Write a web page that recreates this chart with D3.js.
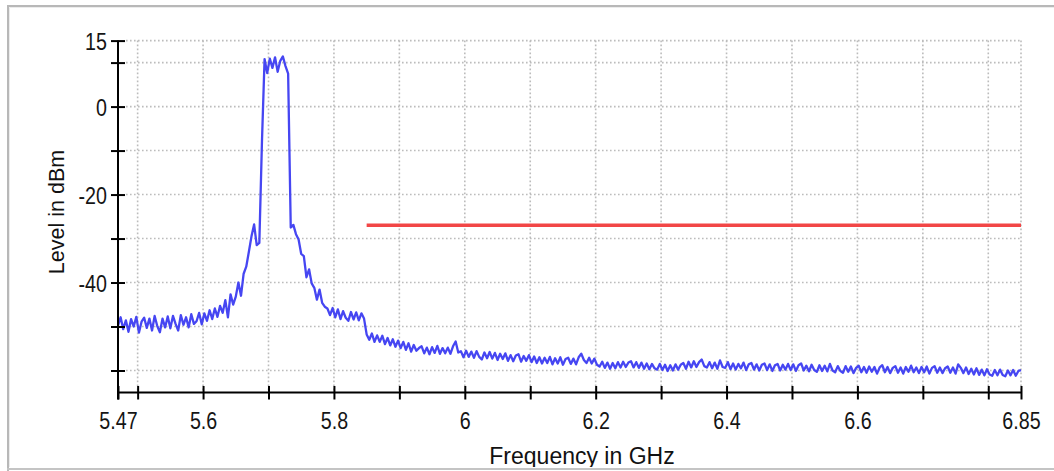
<!DOCTYPE html>
<html>
<head>
<meta charset="utf-8">
<script src="https://cdn.jsdelivr.net/npm/d3@7"></script>
<style>
  html, body { margin: 0; padding: 0; background: #ffffff; }
  svg { display: block; }
  .tick text { font-family: "Liberation Sans", Arial, sans-serif; font-size: 24px; fill: #151515; }
  .title { font-family: "Liberation Sans", Arial, sans-serif; fill: #111; }
</style>
</head>
<body>
<svg id="chart" width="1054" height="471"></svg>
<script>
// ---- data ----
const fStart = 5.47;        // GHz, first sweep point
const fStep = 0.004;        // GHz between sweep points
const levels = [
  -49.8, -47.9, -50.6, -48.6, -51.2, -48.3, -50.0, -47.8, -51.4, -48.9,
  -48.0, -50.3, -48.2, -50.9, -47.6, -49.9, -51.3, -48.2, -50.2, -47.7,
  -50.4, -47.6, -49.4, -50.9, -47.4, -49.6, -47.9, -50.2, -47.2, -49.4,
  -48.8, -46.9, -49.5, -47.0, -48.7, -46.3, -48.3, -45.9, -47.8, -45.3,
  -46.9, -44.0, -47.9, -42.7, -45.0, -43.2, -40.0, -43.0, -38.0, -36.4,
  -33.0, -29.5, -26.8, -31.5, -31.0, -8.0, 10.8, 7.6, 10.9, 8.8,
  11.2, 7.9, 10.4, 11.4, 9.2, 7.5,
  -27.5, -26.9, -29.0, -30.2,
  -33.5, -34.0, -38.8, -37.0, -40.2, -41.2, -43.9, -41.6, -44.6, -45.5,
  -45.9, -47.4, -45.8, -47.9, -46.1, -48.3, -46.5, -48.0, -48.7, -46.7,
  -48.4, -46.8, -48.6, -47.0, -48.2, -51.8,
  -53.0, -51.6, -53.5, -52.0,
  -53.5, -52.1, -54.0, -52.6, -54.3, -52.9, -54.6, -53.2, -54.9, -53.5,
  -55.3, -53.8, -55.7, -54.2, -55.5, -54.9, -54.5, -56.1, -54.8, -56.3,
  -54.7, -56.0, -54.4, -56.2, -54.9, -56.1, -54.8, -56.2, -54.5, -53.4,
  -55.9, -55.6, -57.0, -55.5, -56.9, -55.7, -57.1, -55.6, -56.9, -57.5,
  -55.9, -57.2, -55.8, -57.3, -56.0, -57.6, -56.2, -57.4, -56.1, -57.8,
  -56.5, -57.9, -56.6, -56.3, -58.0, -56.7, -57.8, -56.5, -58.1, -56.8,
  -58.3, -57.0, -58.4, -57.1, -58.3, -56.9, -58.6, -57.2, -58.4, -57.0,
  -58.7, -57.4, -57.1, -58.5, -57.3, -58.6, -57.0, -56.2, -57.6, -58.3,
  -57.1, -58.4, -57.3, -58.7, -59.1, -58.0, -59.4, -58.2, -59.6, -58.3,
  -59.5, -58.1, -59.3, -58.0, -59.2, -58.2, -57.9, -59.3, -58.1, -59.4,
  -58.2, -59.6, -58.4, -59.7, -58.5, -59.5, -59.8, -58.5, -59.9, -58.7,
  -60.1, -58.8, -60.0, -58.6, -59.8, -58.7, -58.3, -59.6, -58.0, -59.3,
  -57.9, -59.2, -58.1, -57.5, -59.0, -59.3, -58.1, -59.5, -58.2, -59.6,
  -57.7, -59.2, -59.4, -58.1, -59.7, -58.4, -59.8, -58.5, -59.5, -58.2,
  -59.9, -58.6, -58.3, -59.8, -58.6, -60.0, -58.7, -58.4, -59.9, -58.6,
  -60.1, -58.8, -58.5, -60.0, -58.7, -59.8, -58.5, -59.9, -58.6, -60.1,
  -58.8, -58.4, -60.0, -58.9, -60.2, -58.7, -59.9, -60.3, -58.8, -60.1,
  -58.9, -60.2, -58.5, -60.0, -60.4, -59.0, -60.1, -60.5, -59.0, -60.3,
  -59.1, -60.6, -59.4, -58.9, -60.4, -59.2, -60.5, -59.1, -60.3, -59.2,
  -60.7, -59.3, -58.8, -60.4, -59.2, -60.6, -59.4, -59.0, -60.5, -59.3,
  -60.7, -59.2, -60.3, -58.9, -60.4, -59.3, -60.6, -59.2, -60.4, -59.1,
  -60.7, -59.4, -59.0, -60.5, -59.3, -60.6, -59.5, -59.1, -60.5, -59.3,
  -60.7, -58.6, -59.4, -60.6, -59.3, -60.8, -59.6, -60.9, -59.5, -61.0,
  -59.8, -61.1, -59.7, -60.9, -61.2, -59.9, -61.1, -59.8, -61.0, -61.3,
  -60.0, -61.1, -59.9, -61.2, -60.1, -59.9
];
const limitFreqs = [5.85, 6.85];
const limitLevels = [-27, -27];
const xTickValues = [5.47, 5.5, 5.6, 5.7, 5.8, 5.9, 6.0, 6.1, 6.2, 6.3, 6.4, 6.5, 6.6, 6.7, 6.8, 6.85];
const xTickLabels = {5.47: "5.47", 5.6: "5.6", 5.8: "5.8", 6.0: "6", 6.2: "6.2", 6.4: "6.4", 6.6: "6.6", 6.85: "6.85"};
const yTickValues = [15, 10, 0, -10, -20, -30, -40, -50, -60];
const yTickLabels = {15: "15", 0: "0", "-20": "-20", "-40": "-40"};
const xTitle = "Frequency in GHz";
const yTitle = "Level in dBm";

// ---- layout ----
const svg = d3.select("#chart");
const W = 1054, H = 471;
const plotLeft = 118, plotRight = 1021, plotTop = 40.6, plotBottom = 392.5;
const narrow = 0.82;

const x = d3.scaleLinear().domain([5.47, 6.85]).range([plotLeft, plotRight]);
const y = d3.scaleLinear().domain([-65, 15]).range([plotBottom, plotTop]);

svg.append("rect").attr("width", W).attr("height", H).attr("fill", "#ffffff");

// grid
const grid = svg.append("g").attr("fill", "none").attr("stroke", "#bcbcbc")
  .attr("stroke-width", 1.6).attr("stroke-dasharray", "1.6,2.4");
grid.selectAll("line.v").data(xTickValues.filter(d => d !== 5.47)).join("line")
  .attr("class", "v")
  .attr("x1", d => x(d)).attr("x2", d => x(d))
  .attr("y1", y(15)).attr("y2", plotBottom);
grid.selectAll("line.h").data(yTickValues).join("line")
  .attr("class", "h")
  .attr("x1", plotLeft + 8).attr("x2", plotRight)
  .attr("y1", d => y(d)).attr("y2", d => y(d));

// trace
const points = levels.map((v, i) => [fStart + i * fStep, v]);
svg.append("path").datum(points)
  .attr("fill", "none").attr("stroke", "#4646f2").attr("stroke-width", 2.3)
  .attr("stroke-linejoin", "round")
  .attr("d", d3.line().x(d => x(d[0])).y(d => y(d[1])));

// limit line
svg.append("path").datum(limitFreqs.map((f, i) => [f, limitLevels[i]]))
  .attr("fill", "none").attr("stroke", "#f24646").attr("stroke-width", 3.5)
  .attr("d", d3.line().x(d => x(d[0])).y(d => y(d[1])));

// y axis
const yAxis = svg.append("g").attr("transform", `translate(${plotLeft},0)`)
  .call(d3.axisLeft(y).tickValues(yTickValues).tickSize(7)
    .tickFormat(d => yTickLabels[d] !== undefined ? yTickLabels[d] : ""));
yAxis.select(".domain").remove();
yAxis.selectAll(".tick line").attr("x1", 7).attr("x2", -7).attr("stroke", "#000").attr("stroke-width", 2);
yAxis.selectAll(".tick text").attr("x", -11 / narrow).attr("dy", "0.36em")
  .attr("transform", `scale(${narrow},1)`);
svg.append("line").attr("x1", plotLeft).attr("x2", plotLeft).attr("y1", y(15)).attr("y2", plotBottom + 7)
  .attr("stroke", "#000").attr("stroke-width", 2);

// x axis
const xAxis = svg.append("g").attr("transform", `translate(0,${plotBottom})`)
  .call(d3.axisBottom(x).tickValues(xTickValues).tickSize(7)
    .tickFormat(d => xTickLabels[d] !== undefined ? xTickLabels[d] : ""));
xAxis.select(".domain").remove();
xAxis.selectAll(".tick line").attr("y1", -6.5).attr("y2", 7).attr("stroke", "#000").attr("stroke-width", 2);
xAxis.selectAll(".tick text").attr("y", 37).attr("dy", 0)
  .attr("transform", `scale(${narrow},1)`);
svg.append("line").attr("x1", plotLeft - 1).attr("x2", plotRight + 1).attr("y1", plotBottom).attr("y2", plotBottom)
  .attr("stroke", "#000").attr("stroke-width", 2);

// titles
svg.append("text").attr("class", "title")
  .attr("x", 582).attr("y", 463.5).attr("text-anchor", "middle")
  .style("font-size", "23px").text(xTitle);
svg.append("text").attr("class", "title")
  .attr("transform", "translate(64,212) rotate(-90)").attr("text-anchor", "middle")
  .style("font-size", "21.5px").text(yTitle);

// frame (clips the x title descenders like the original)
svg.append("rect").attr("x", 0).attr("y", 467).attr("width", W).attr("height", 4).attr("fill", "#ffffff");
svg.append("path").attr("d", `M8,${H} L8,6 L${W},6`).attr("fill", "none").attr("stroke", "#b8b8b8").attr("stroke-width", 2);
svg.append("path").attr("d", `M9.5,467 L9.5,7.5 L${W},7.5`).attr("fill", "none").attr("stroke", "#ececec").attr("stroke-width", 1);
svg.append("line").attr("x1", 7).attr("x2", W).attr("y1", 469).attr("y2", 469).attr("stroke", "#c4c4c4").attr("stroke-width", 2);
</script>
</body>
</html>
